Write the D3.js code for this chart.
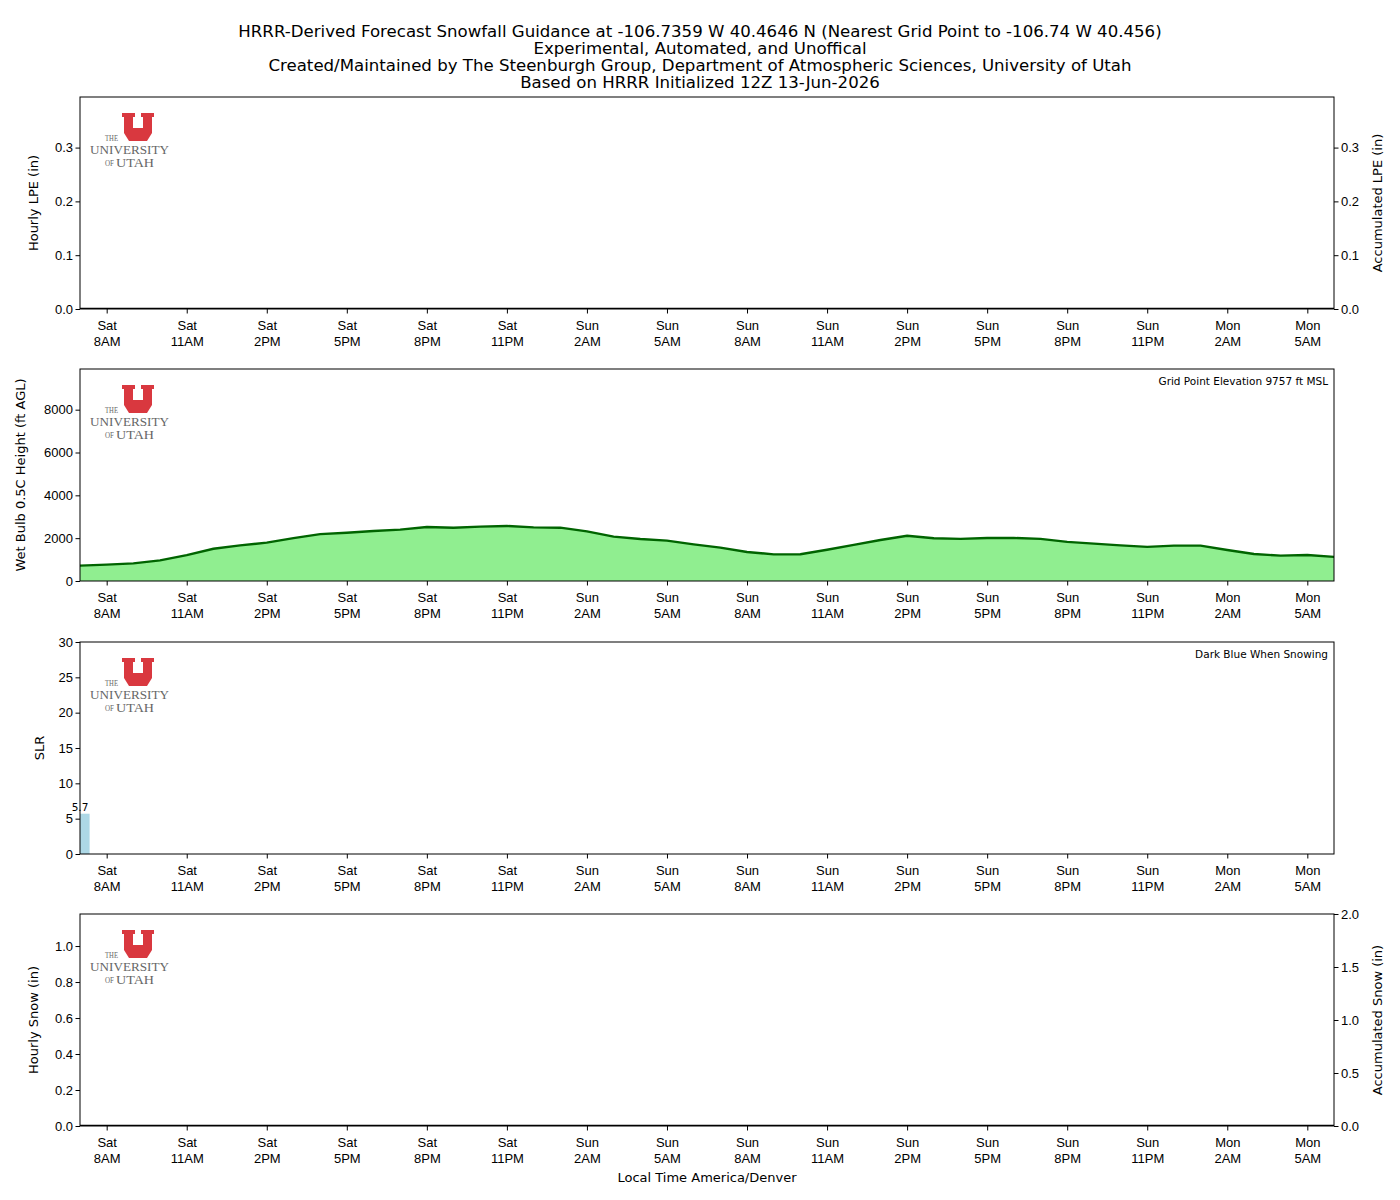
<!DOCTYPE html>
<html>
<head>
<meta charset="utf-8">
<script src="https://cdn.jsdelivr.net/npm/d3@7"></script>
<style>
  body { margin: 0; background: #fff; }
  svg { font-family: "DejaVu Sans", sans-serif; }
</style>
</head>
<body>
<div id="chart"></div>
<script>
// hours since Sat 7AM local
const hours = d3.range(0, 48);
const tickHours = [1, 4, 7, 10, 13, 16, 19, 22, 25, 28, 31, 34, 37, 40, 43, 46];
const tickDays = ['Sat', 'Sat', 'Sat', 'Sat', 'Sat', 'Sat', 'Sun', 'Sun', 'Sun', 'Sun', 'Sun', 'Sun', 'Sun', 'Sun', 'Mon', 'Mon'];
const tickTimes = ['8AM', '11AM', '2PM', '5PM', '8PM', '11PM', '2AM', '5AM', '8AM', '11AM', '2PM', '5PM', '8PM', '11PM', '2AM', '5AM'];

const hourlyLPE = new Array(48).fill(0);
const accumLPE = new Array(48).fill(0);
const wetBulbHeight = [
  720, 765, 825, 965, 1210, 1505, 1665, 1790, 2005, 2190,
  2255, 2335, 2400, 2520, 2490, 2540, 2570, 2505, 2490, 2315,
  2070, 1960, 1885, 1710, 1560, 1355, 1245, 1250, 1460, 1690,
  1915, 2115, 1995, 1965, 2010, 2010, 1965, 1825, 1745, 1665,
  1595, 1650, 1650, 1450, 1260, 1185, 1215, 1125
];
const slrHours = [0];
const slrValues = [5.7];
const hourlySnow = new Array(48).fill(0);
const accumSnow = new Array(48).fill(0);

const titleLines = [
  'HRRR-Derived Forecast Snowfall Guidance at -106.7359 W 40.4646 N (Nearest Grid Point to -106.74 W 40.456)',
  'Experimental, Automated, and Unoffical',
  'Created/Maintained by The Steenburgh Group, Department of Atmospheric Sciences, University of Utah',
  'Based on HRRR Initialized 12Z 13-Jun-2026'
];

const W = 1400, H = 1200;
const left = 80, right = 1334;
const panelTops = [97, 369, 642, 914];
const ph = 212;

const svg = d3.select('#chart').append('svg')
  .attr('width', W).attr('height', H);

svg.append('g').selectAll('text')
  .data(titleLines).enter().append('text')
  .attr('x', 700).attr('y', (d, i) => 31 + i * 17)
  .attr('dy', '0.35em')
  .attr('text-anchor', 'middle')
  .style('font-size', '16.6px')
  .text(d => d);

const x = d3.scaleLinear().domain([0, 47]).range([left, right]);

function drawLogo(g) {
  const u = g.append('g').attr('transform', 'translate(122,113)');
  u.append('path')
    .attr('d', 'M0,0 H13 V4 H11 V15 H21 V4 H19 V0 H32 V4 H30 V20 L25,28 H7 L2,20 V4 H0 Z')
    .attr('fill', '#d9383f');
  g.append('text').attr('x', 105).attr('y', 141)
    .attr('textLength', 13).attr('lengthAdjust', 'spacingAndGlyphs')
    .style('font-family', '"Liberation Serif", serif').style('font-size', '8px')
    .attr('fill', '#666').text('THE');
  g.append('text').attr('x', 90).attr('y', 154)
    .attr('textLength', 79).attr('lengthAdjust', 'spacingAndGlyphs')
    .style('font-family', '"Liberation Serif", serif').style('font-size', '11.5px')
    .attr('fill', '#666').text('UNIVERSITY');
  g.append('text').attr('x', 105).attr('y', 166)
    .attr('textLength', 9).attr('lengthAdjust', 'spacingAndGlyphs')
    .style('font-family', '"Liberation Serif", serif').style('font-size', '8px')
    .attr('fill', '#666').text('OF');
  g.append('text').attr('x', 116).attr('y', 167)
    .attr('textLength', 38).attr('lengthAdjust', 'spacingAndGlyphs')
    .style('font-family', '"Liberation Serif", serif').style('font-size', '11.5px')
    .attr('fill', '#666').text('UTAH');
}

function makePanel(i, yDomain, yTicks, yFmt, leftLabel, leftLabelX, rightAxis) {
  const top = panelTops[i];
  const g = svg.append('g');
  const y = d3.scaleLinear().domain(yDomain).range([top + ph, top]);

  const clipId = 'clip' + i;
  svg.append('clipPath').attr('id', clipId)
    .append('rect').attr('x', left).attr('y', top).attr('width', right - left).attr('height', ph);
  const plot = g.append('g').attr('clip-path', `url(#${clipId})`);

  // logo sits in each panel, offset from first panel position
  const logo = g.append('g').attr('transform', `translate(0,${top - panelTops[0]})`);
  drawLogo(logo);

  // x axis
  const xAxis = g.append('g')
    .attr('transform', `translate(0,${top + ph})`)
    .call(d3.axisBottom(x).tickValues(tickHours).tickSize(4.5).tickFormat(''));
  xAxis.select('.domain').remove();
  xAxis.selectAll('.tick').each(function(d, k) {
    const t = d3.select(this).append('text')
      .attr('fill', '#000').attr('text-anchor', 'middle')
      .style('font-size', '13px');
    t.append('tspan').attr('x', 0).attr('y', 21).text(tickDays[k]);
    t.append('tspan').attr('x', 0).attr('y', 37).text(tickTimes[k]);
  });

  // left y axis
  const yAxis = g.append('g')
    .attr('transform', `translate(${left},0)`)
    .call(d3.axisLeft(y).tickValues(yTicks).tickSize(4.5).tickFormat(yFmt));
  yAxis.select('.domain').remove();
  yAxis.selectAll('text').style('font-size', '13px').attr('x', -7);

  g.append('text')
    .attr('transform', `translate(${leftLabelX},${top + ph / 2}) rotate(-90)`)
    .attr('text-anchor', 'middle')
    .style('font-size', '13px')
    .text(leftLabel);

  if (rightAxis) {
    const y2 = d3.scaleLinear().domain(rightAxis.domain).range([top + ph, top]);
    const ra = g.append('g')
      .attr('transform', `translate(${right},0)`)
      .call(d3.axisRight(y2).tickValues(rightAxis.ticks).tickSize(4.5).tickFormat(rightAxis.fmt));
    ra.select('.domain').remove();
    ra.selectAll('text').style('font-size', '13px').attr('x', 7);
    g.append('text')
      .attr('transform', `translate(1382,${top + ph / 2}) rotate(-90)`)
      .attr('text-anchor', 'middle')
      .style('font-size', '13px')
      .text(rightAxis.label);
  }

  // frame
  g.append('rect')
    .attr('x', left).attr('y', top).attr('width', right - left).attr('height', ph)
    .attr('fill', 'none').attr('stroke', '#000').attr('stroke-width', 1);

  return { g, plot, y, top };
}

// Panel 1: LPE
const p1 = makePanel(0, [0, 0.394], [0, 0.1, 0.2, 0.3], d3.format('.1f'), 'Hourly LPE (in)', 38,
  { domain: [0, 0.394], ticks: [0, 0.1, 0.2, 0.3], fmt: d3.format('.1f'), label: 'Accumulated LPE (in)' });
p1.plot.selectAll('rect.bar').data(hours).enter().append('rect')
  .attr('x', d => x(d - 0.36)).attr('width', x(0.72) - x(0))
  .attr('y', (d, i) => p1.y(hourlyLPE[i]))
  .attr('height', (d, i) => p1.y(0) - p1.y(hourlyLPE[i]))
  .attr('fill', '#2e8b57');
p1.plot.append('path')
  .datum(hours)
  .attr('d', d3.line().x(d => x(d)).y((d, i) => p1.y(accumLPE[i])))
  .attr('fill', 'none').attr('stroke', '#000').attr('stroke-width', 2.5);

// Panel 2: wet bulb height
const p2 = makePanel(1, [0, 9900], [0, 2000, 4000, 6000, 8000], d3.format('d'), 'Wet Bulb 0.5C Height (ft AGL)', 25, null);
p2.plot.append('path')
  .datum(hours)
  .attr('d', d3.area().x(d => x(d)).y0(p2.y(0)).y1((d, i) => p2.y(wetBulbHeight[i])))
  .attr('fill', '#90ee90');
p2.plot.append('path')
  .datum(hours)
  .attr('d', d3.line().x(d => x(d)).y((d, i) => p2.y(wetBulbHeight[i])))
  .attr('fill', 'none').attr('stroke', '#006400').attr('stroke-width', 2.4);
p2.g.append('text')
  .attr('x', 1328).attr('y', p2.top + 12).attr('dy', '0.35em')
  .attr('text-anchor', 'end').style('font-size', '10.5px')
  .text('Grid Point Elevation 9757 ft MSL');

// Panel 3: SLR
const p3 = makePanel(2, [0, 30], [0, 5, 10, 15, 20, 25, 30], d3.format('d'), 'SLR', 44, null);
p3.plot.selectAll('rect.slr').data(slrHours).enter().append('rect')
  .attr('x', d => x(d - 0.36)).attr('width', x(0.72) - x(0))
  .attr('y', (d, i) => p3.y(slrValues[i]))
  .attr('height', (d, i) => p3.y(0) - p3.y(slrValues[i]))
  .attr('fill', '#add8e6');
p3.g.selectAll('text.slrlab').data(slrHours).enter().append('text')
  .attr('x', d => x(d)).attr('y', (d, i) => p3.y(slrValues[i]) - 3)
  .attr('text-anchor', 'middle').style('font-size', '10.5px')
  .text((d, i) => slrValues[i].toFixed(1));
p3.g.append('text')
  .attr('x', 1328).attr('y', p3.top + 12).attr('dy', '0.35em')
  .attr('text-anchor', 'end').style('font-size', '10.5px')
  .text('Dark Blue When Snowing');

// Panel 4: snow
const p4 = makePanel(3, [0, 1.178], [0, 0.2, 0.4, 0.6, 0.8, 1.0], d3.format('.1f'), 'Hourly Snow (in)', 38,
  { domain: [0, 2.0], ticks: [0, 0.5, 1.0, 1.5, 2.0], fmt: d3.format('.1f'), label: 'Accumulated Snow (in)' });
p4.plot.selectAll('rect.bar').data(hours).enter().append('rect')
  .attr('x', d => x(d - 0.36)).attr('width', x(0.72) - x(0))
  .attr('y', (d, i) => p4.y(hourlySnow[i]))
  .attr('height', (d, i) => p4.y(0) - p4.y(hourlySnow[i]))
  .attr('fill', '#00008b');
p4.plot.append('path')
  .datum(hours)
  .attr('d', d3.line().x(d => x(d)).y((d, i) => p4.y(accumSnow[i])))
  .attr('fill', 'none').attr('stroke', '#000').attr('stroke-width', 2.5);

svg.append('text')
  .attr('x', 707).attr('y', 1177).attr('dy', '0.35em')
  .attr('text-anchor', 'middle').style('font-size', '13px')
  .text('Local Time America/Denver');
</script>
</body>
</html>
